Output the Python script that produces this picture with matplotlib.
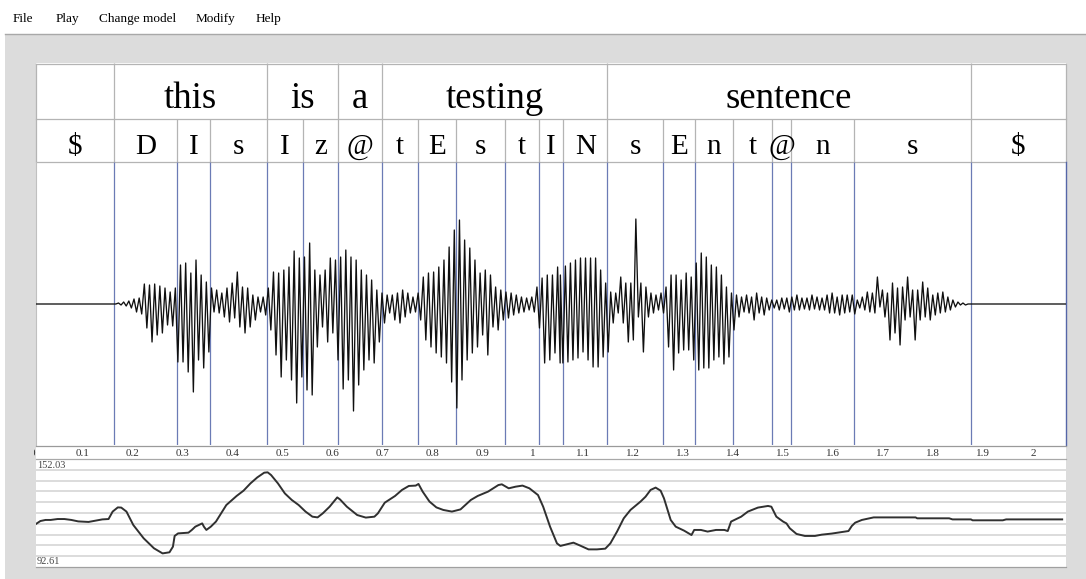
import numpy as np
import matplotlib
matplotlib.use('Agg')
import matplotlib.pyplot as plt
from matplotlib.patches import Rectangle

# ---------------- data ----------------
menu_items = ['File', 'Play', 'Change model', 'Modify', 'Help']

words = ['', 'this', 'is', 'a', 'testing', 'sentence', '']
word_bounds = [0.0, 0.1637, 0.4679, 0.6098, 0.6978, 1.1489, 1.8751, 2.066]

phones = ['$', 'D', 'I', 's', 'I', 'z', '@', 't', 'E', 's', 't', 'I', 'N',
          's', 'E', 'n', 't', '@', 'n', 's', '$']
phone_bounds = [0.0, 0.1637, 0.2896, 0.3544, 0.4679, 0.5409, 0.6098, 0.6978,
                0.7715, 0.8465, 0.9450, 1.0118, 1.0612, 1.1489, 1.2609, 1.3246,
                1.4004, 1.4775, 1.5163, 1.6430, 1.8751, 2.066]

tick_values = [0, 0.1, 0.2, 0.3, 0.4, 0.5, 0.6, 0.7, 0.8, 0.9, 1.0,
               1.1, 1.2, 1.3, 1.4, 1.5, 1.6, 1.7, 1.8, 1.9, 2.0]
tick_labels = ['0', '0.1', '0.2', '0.3', '0.4', '0.5', '0.6', '0.7', '0.8', '0.9', '1',
               '1.1', '1.2', '1.3', '1.4', '1.5', '1.6', '1.7', '1.8', '1.9', '2']

pitch_max = 152.03
pitch_min = 92.61
pitch_t = [0.007, 0.0157, 0.0260, 0.0363, 0.0501, 0.0638, 0.0776, 0.0914, 0.1120, 0.1258,
           0.1396, 0.1520, 0.1602, 0.1705, 0.1774, 0.1878, 0.2015, 0.2222, 0.2428, 0.2600,
           0.2738, 0.2807, 0.2841, 0.2910, 0.3117, 0.3185, 0.3254, 0.3392, 0.3426, 0.3475,
           0.3564, 0.3667, 0.3874, 0.4080, 0.4218, 0.4356, 0.4493, 0.4631, 0.4700, 0.4769,
           0.4906, 0.5044, 0.5182, 0.5320, 0.5457, 0.5595, 0.5698, 0.5801, 0.5939, 0.6091,
           0.6146, 0.6283, 0.6490, 0.6662, 0.6834, 0.6903, 0.7041, 0.7247, 0.7385, 0.7522,
           0.7660, 0.7715, 0.7798, 0.7935, 0.8073, 0.8211, 0.8383, 0.8555, 0.8762, 0.8899,
           0.9106, 0.9312, 0.9381, 0.9519, 0.9656, 0.9794, 0.9932, 1.0104, 1.0207, 1.0345,
           1.0483, 1.0551,
           1.0812, 1.0946, 1.1114, 1.1281, 1.1449, 1.1550, 1.1684, 1.1818, 1.1952, 1.2153,
           1.2254, 1.2354, 1.2455, 1.2555, 1.2622, 1.2756, 1.2857, 1.3025, 1.3172, 1.3226,
           1.3360, 1.3494, 1.3662, 1.3829, 1.3896, 1.3963, 1.4165, 1.4299, 1.4500, 1.4701,
           1.4768, 1.4868, 1.5003, 1.5070, 1.5137, 1.5271, 1.5438, 1.5640, 1.5774, 1.5975,
           1.6310, 1.6377, 1.6444, 1.6578, 1.6813, 1.7651, 1.7684, 1.8322, 1.8389, 1.8757,
           1.8791, 1.9394, 1.9461, 2.0581]
pitch_hz = [116.3, 117.9, 118.5, 118.5, 119.0, 119.0, 118.5, 117.7, 117.4, 118.1,
            118.8, 119.0, 123.1, 125.4, 125.3, 123.1, 115.7, 108.4, 102.9, 100.1,
            100.7, 103.8, 109.7, 111.1, 111.5, 113.0, 114.8, 116.6, 114.8, 113.0,
            114.8, 117.6, 126.7, 131.7, 134.6, 138.6, 141.9, 144.5, 144.7, 143.2,
            138.6, 133.1, 129.5, 126.7, 123.1, 120.3, 119.9, 122.1, 125.8, 130.9,
            129.8, 125.8, 121.2, 119.8, 120.3, 122.1, 128.0, 131.7, 135.0, 137.2,
            137.4, 138.3, 134.1, 128.6, 125.4, 124.0, 123.1, 124.3, 129.5, 131.7,
            134.1, 137.7, 138.1, 135.9, 136.8, 137.4, 135.9, 132.2, 125.8, 114.8,
            105.6, 104.2,
            106.0, 104.4, 102.3, 102.3, 102.7, 105.6, 112.1, 119.4, 124.0, 128.6,
            131.3, 135.0, 136.3, 134.6, 130.4, 118.5, 114.8, 112.6, 110.2, 113.0,
            113.0, 112.1, 113.0, 113.0, 112.4, 117.6, 120.3, 123.1, 125.3, 126.2,
            125.8, 120.3, 117.6, 116.6, 113.9, 110.8, 109.7, 109.7, 110.4, 111.0,
            112.4, 115.2, 117.0, 118.5, 119.9, 119.9, 119.4, 119.4, 118.8, 118.8,
            118.3, 118.3, 118.8, 118.8]

# waveform peak readings (upward / downward swing per reading step)
wave_a_span = (0.1616, 1.0496)
wave_a_up = [0, 1, 2, 3, 5, 6, 20, 19, 20, 18, 16, 12, 16, 39, 41, 31, 44, 29, 22, 16,
             14, 11, 16, 21, 32, 17, 16, 9, 7, 7, 16, 32, 31, 34, 37, 53, 46, 47, 61, 34,
             29, 34, 46, 44, 47, 54, 47, 44, 34, 29, 24, 14, 11, 9, 9, 11, 14, 11, 7, 11,
             27, 31, 32, 37, 44, 57, 74, 84, 64, 56, 44, 31, 34, 29, 17, 14, 12, 11, 9, 7,
             6, 7, 17, 26, 29, 29, 37]
wave_a_dn = [0, 1, 2, 4, 8, 10, 24, 38, 31, 29, 21, 22, 58, 58, 68, 88, 56, 64, 48, 8,
             9, 13, 18, 14, 23, 29, 23, 16, 8, 11, 26, 51, 73, 56, 76, 99, 73, 86, 91, 43,
             23, 38, 29, 56, 85, 76, 107, 81, 66, 56, 59, 38, 19, 9, 16, 19, 13, 9, 8, 16,
             36, 43, 49, 53, 59, 78, 104, 76, 56, 49, 43, 31, 51, 23, 26, 16, 14, 11, 9, 8,
             6, 8, 24, 59, 56, 49, 59]
wave_b_span = (1.0551, 1.8799)
wave_b_up = [29, 38, 41, 44, 46, 46, 46, 46, 34, 21, 12, 11, 27, 21, 21, 85, 21, 17, 11, 9,
             11, 17, 29, 29, 24, 31, 27, 41, 51, 47, 39, 37, 29, 17, 11, 9, 7, 9, 7, 11,
             7, 6, 4, 4, 6, 6, 7, 9, 6, 6, 9, 7, 6, 9, 11, 7, 9, 9, 9, 4,
             7, 12, 11, 27, 14, 11, 21, 16, 17, 27, 14, 14, 22, 16, 9, 11, 12, 7, 4, 2,
             1, 0, 0]
wave_b_dn = [59, 58, 56, 54, 48, 56, 63, 63, 53, 48, 19, 9, 19, 38, 36, 13, 48, 13, 9, 6,
             9, 43, 66, 49, 46, 46, 56, 66, 64, 64, 56, 53, 60, 53, 26, 13, 8, 9, 16, 9,
             11, 6, 4, 6, 5, 8, 6, 6, 5, 6, 5, 6, 6, 9, 9, 11, 9, 8, 10, 4,
             6, 8, 9, 3, 13, 36, 29, 41, 16, 13, 36, 16, 13, 16, 11, 9, 8, 6, 3, 1,
             1, 0, 0]
duration = 2.066

# ---------------- layout ----------------
W, H = 1086, 579
SERIF = 'Liberation Serif'
PX0, PX1 = 32.5, 500.3          # pixel position of t=0 and pixels per second
T0 = (36 - PX0) / PX1
T1 = (1066 - PX0) / PX1
GRAY = '#b4b4b4'
BLUE = '#6b7bb5'

fig = plt.figure(figsize=(W / 100, H / 100), dpi=100)
fig.patch.set_facecolor('white')


def px_axes(x0, y0, x1, y1, z):
    return fig.add_axes([x0 / W, 1 - y1 / H, (x1 - x0) / W, (y1 - y0) / H], zorder=z)


bg = fig.add_axes([0, 0, 1, 1], zorder=0)
bg.set_xlim(0, W)
bg.set_ylim(H, 0)
bg.axis('off')
bg.add_patch(Rectangle((5, 34), W - 5, H - 34, fc='#dcdcdc', ec='none'))
bg.plot([5, W], [34, 34], color='#a8a8a8', lw=1.0)
bg.add_patch(Rectangle((36, 63), 1030, 504, fc='white', ec='none'))

menu_x = [13, 56, 99, 196, 256]
for x, lab in zip(menu_x, menu_items):
    bg.text(x, 22, lab, fontsize=9.5, family=SERIF, va='baseline', ha='left', color='black')

# borders
bg.plot([35.5, 1066, 1066, 35.5, 35.5], [63.5, 63.5, 162, 162, 63.5], color=GRAY, lw=0.9)
bg.plot([35.5, 1066], [118.5, 118.5], color=GRAY, lw=0.9)
bg.plot([35.5, 35.5], [162, 445], color='#c0c0c0', lw=0.8)
bg.plot([1065.5, 1065.5], [162, 445], color='#5566a8', lw=1.0)
bg.plot([35.5, 1066], [445.5, 445.5], color='#9a9a9a', lw=0.9)
bg.plot([35.5, 1066], [459, 459], color='#a8a8a8', lw=0.9)
bg.plot([35.5, 1066], [567, 567], color='#a0a0a0', lw=0.9)

# ---------------- tiers ----------------
ax_t = px_axes(36, 63, 1066, 162, 2)
ax_t.set_xlim(T0, T1)
ax_t.set_ylim(162, 63)
ax_t.axis('off')
ax_t.patch.set_alpha(0)
ax_t.vlines(word_bounds[1:-1], 63, 118.5, color=GRAY, lw=0.9)
ax_t.vlines(phone_bounds[1:-1], 118.5, 162, color=GRAY, lw=0.9)
for w, b0, b1 in zip(words, word_bounds[:-1], word_bounds[1:]):
    if w:
        ax_t.text((max(b0, T0) + min(b1, T1)) / 2, 108, w, ha='center', va='baseline',
                  fontsize=26.5, family=SERIF)
for p, b0, b1 in zip(phones, phone_bounds[:-1], phone_bounds[1:]):
    ax_t.text((max(b0, T0) + min(b1, T1)) / 2, 154, p, ha='center', va='baseline',
              fontsize=21, family=SERIF)

# ---------------- waveform ----------------
ax_w = px_axes(36, 162, 1066, 445, 2)
ax_w.set_xlim(T0, T1)
ax_w.set_ylim(-141, 142)
ax_w.axis('off')
ax_w.patch.set_alpha(0)
ax_w.vlines(phone_bounds[1:-1], -141, 142, color=BLUE, lw=0.9, zorder=1)

ta = np.linspace(wave_a_span[0], wave_a_span[1], len(wave_a_up))
tb = np.linspace(wave_b_span[0], wave_b_span[1], len(wave_b_up))
wt = np.concatenate([ta, tb])
wu = np.concatenate([wave_a_up, wave_b_up]).astype(float)
wd = np.concatenate([wave_a_dn, wave_b_dn]).astype(float)
half = 0.00505
xs = [0.0]
ys = [0.0]
for t, u, d in zip(wt, wu, wd):
    xs += [t, t + half]
    ys += [u, -d]
xs.append(duration)
ys.append(0.0)
ax_w.plot(xs, ys, color='#101010', lw=0.95, zorder=2)

# ---------------- time ticks ----------------
ax_k = px_axes(34, 445, 1066, 459, 2)
ax_k.set_xlim((34 - PX0) / PX1, T1)
ax_k.set_ylim(459, 445)
ax_k.axis('off')
ax_k.patch.set_alpha(0)
for v, lab in zip(tick_values, tick_labels):
    ax_k.text(v, 456.5, lab, ha='center', va='baseline', fontsize=8, family=SERIF,
              color='#333333', clip_on=True)

# ---------------- pitch ----------------
ax_p = px_axes(36, 459, 1066, 567, 2)
ax_p.set_xlim(T0, T1)
ax_p.set_ylim(pitch_min, pitch_max)
ax_p.axis('off')
ax_p.patch.set_alpha(0)
for i in range(1, 10):
    ax_p.axhline(pitch_min + i * (pitch_max - pitch_min) / 10, color='#d2d2d2', lw=1.1, zorder=1)
ax_p.plot(pitch_t, pitch_hz, color='#303030', lw=1.4, zorder=3, solid_joinstyle='round')
bg.text(37, 468, '%.2f' % pitch_max, fontsize=7.5, family=SERIF, color='#444444', va='baseline')
bg.text(37, 564, '%.2f' % pitch_min, fontsize=7.5, family=SERIF, color='#444444', va='baseline')

fig.savefig('out.png', dpi=100)
